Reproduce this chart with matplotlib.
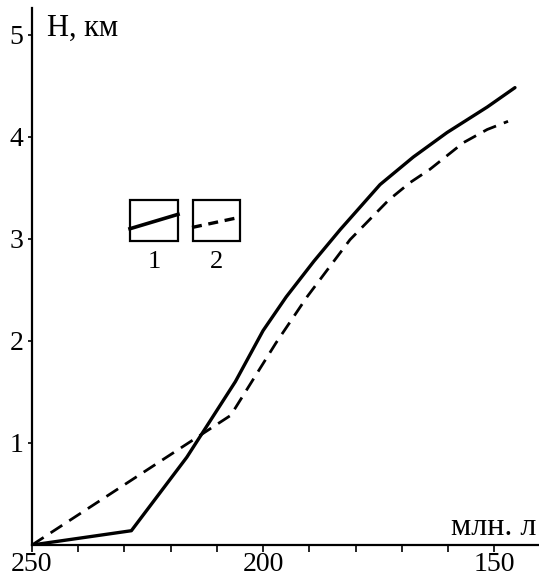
import matplotlib
matplotlib.use("Agg")
import matplotlib.pyplot as plt
from matplotlib.lines import Line2D
from matplotlib.patches import Rectangle

# Data
age_solid = [250, 228.5, 216.5, 206, 200, 195, 189, 183.3, 174.7, 167.5, 160.2, 151.5, 145.5]
h_solid = [0.0, 0.14, 0.86, 1.6, 2.1, 2.43, 2.78, 3.09, 3.53, 3.80, 4.04, 4.29, 4.48]
age_dashed = [250, 207, 197.2, 190.5, 181.2, 172.8, 168.2, 163.9, 156.7, 151.5, 147]
h_dashed = [0.0, 1.27, 1.98, 2.43, 2.99, 3.38, 3.55, 3.68, 3.94, 4.07, 4.15]
x_major = [250, 200, 150]
x_minor = [240, 230, 220, 210, 190, 180, 170, 160]
y_ticks = [1, 2, 3, 4, 5]
legend_labels = ["1", "2"]

plt.rcParams['font.family'] = ['Liberation Serif', 'DejaVu Serif']

W, H = 539, 579
fig = plt.figure(figsize=(W / 100, H / 100), dpi=100)
ax = fig.add_axes([32 / W, (H - 545) / H, (W - 32) / W, (545 - 8) / H])

ax.plot(age_solid, h_solid, color='black', lw=2.4, solid_joinstyle='round', solid_capstyle='round')
ax.plot(age_dashed, h_dashed, color='black', lw=2.0, dashes=(5, 3))

ax.set_xlim(250, 140.3)
ax.set_ylim(0, 5.26)
for s in ['top', 'right']:
    ax.spines[s].set_visible(False)
for s in ['left', 'bottom']:
    ax.spines[s].set_linewidth(1.6)

ax.set_xticks(x_major)
ax.set_xticks(x_minor, minor=True)
ax.set_yticks(y_ticks)
ax.tick_params(axis='x', which='both', direction='out', length=5, width=1.2, labelsize=20, pad=0)
ax.tick_params(axis='y', direction='out', length=3, width=1.2, labelsize=20, pad=3)

ax.text(0.03, 0.99, "H, км", transform=ax.transAxes, fontsize=22, va='top', ha='left')
ax.text(0.995, 0.005, "млн. л", transform=ax.transAxes, fontsize=23, va='bottom', ha='right')

# legend boxes
boxes = [(130, 200, 178, 241, '-', (0.3, 0.65)), (193, 200, 240, 241, '--', (0.33, 0.58))]
for (l, t, r, b, ls, (y0, y1)), lab in zip(boxes, legend_labels):
    fig.patches.append(Rectangle((l / W, (H - b) / H), (r - l) / W, (b - t) / H,
                                 transform=fig.transFigure, fill=False, lw=1.6, ec='black'))
    x0 = l / W if ls == '-' else (l - 1) / W
    if ls == '-':
        fig.lines.append(Line2D([x0, r / W], [(H - b + y0 * (b - t)) / H, (H - b + y1 * (b - t)) / H],
                                transform=fig.transFigure, color='black', lw=2.6))
    else:
        fig.lines.append(Line2D([x0, r / W], [(H - b + y0 * (b - t)) / H, (H - b + y1 * (b - t)) / H],
                                transform=fig.transFigure, color='black', lw=2.4, dashes=(3, 2)))
    fig.text((l + r) / 2 / W, (H - 262) / H, lab, fontsize=19, ha='center', va='center')

fig.savefig("out.png", dpi=100)
